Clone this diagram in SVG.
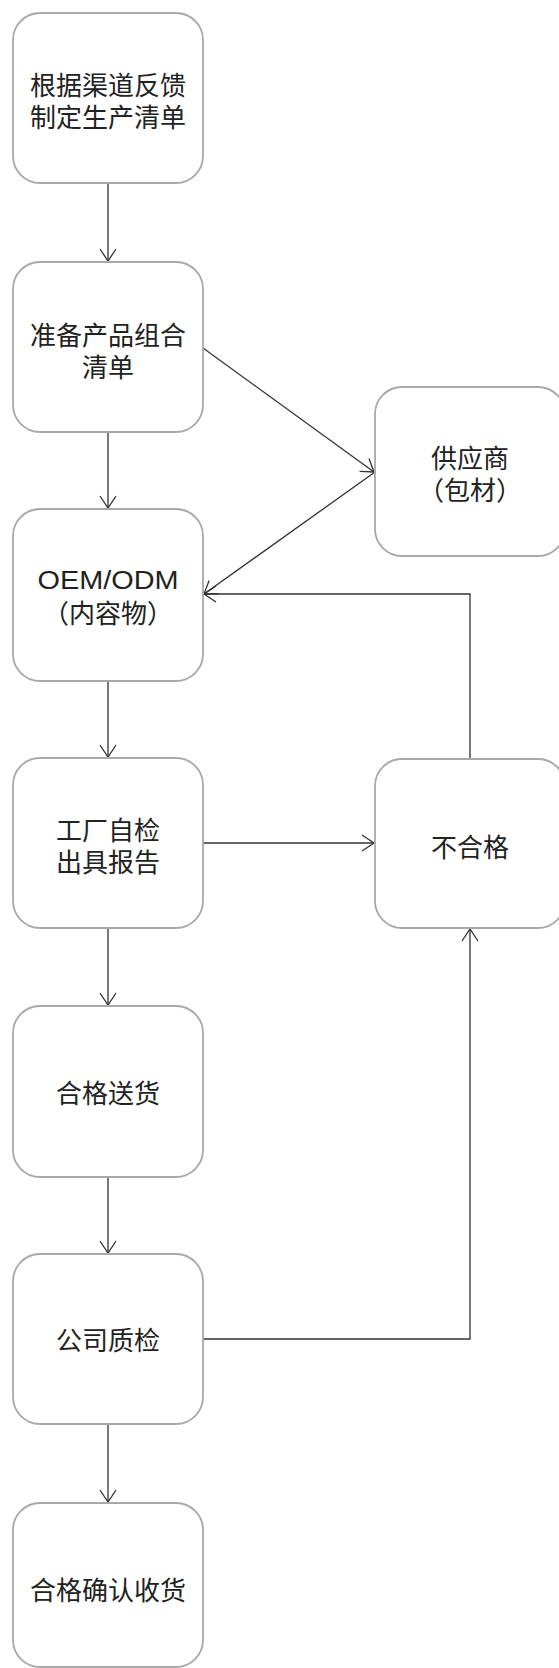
<svg xmlns="http://www.w3.org/2000/svg" width="559" height="1668" viewBox="0 0 559 1668">
<style>
.box{fill:#fff;stroke:#a8a8a8;stroke-width:1.8}
.t{font-family:"Liberation Sans","Noto Sans CJK SC",sans-serif;font-size:26px;fill:#222;text-anchor:middle}
.c{fill:none;stroke:#333;stroke-width:1.3}
</style>
<defs>
<marker id="a" markerWidth="16" markerHeight="20" viewBox="-14 -10 16 20" refX="0" refY="0" orient="auto" markerUnits="userSpaceOnUse">
<path d="M-12,-8 L0,0 L-12,8" fill="none" stroke="#333" stroke-width="1.3"/>
</marker>
</defs>
<rect width="559" height="1668" fill="#fff"/>
<g id="connectors">
<path class="c" d="M108,183 V261" marker-end="url(#a)"/>
<path class="c" d="M108,432 V508" marker-end="url(#a)"/>
<path class="c" d="M108,681 V757" marker-end="url(#a)"/>
<path class="c" d="M108,928 V1005" marker-end="url(#a)"/>
<path class="c" d="M108,1177 V1253" marker-end="url(#a)"/>
<path class="c" d="M108,1424 V1502" marker-end="url(#a)"/>
<path class="c" d="M203,348 L374,472" marker-end="url(#a)"/>
<path class="c" d="M375,472 L204,594" marker-end="url(#a)"/>
<path class="c" d="M470,759 V594 H204" marker-end="url(#a)"/>
<path class="c" d="M203,843 H374" marker-end="url(#a)"/>
<path class="c" d="M203,1339 H470 V929" marker-end="url(#a)"/>
</g>
<g id="n1"><rect class="box" x="13" y="13" width="190" height="170" rx="27"/><text class="t"><tspan x="108" y="95">根据渠道反馈</tspan><tspan x="108" y="127">制定生产清单</tspan></text></g>
<g id="n2"><rect class="box" x="13" y="262" width="190" height="170" rx="27"/><text class="t"><tspan x="108" y="345">准备产品组合</tspan><tspan x="108" y="377">清单</tspan></text></g>
<g id="n3"><rect class="box" x="13" y="509" width="190" height="172" rx="27"/><text class="t"><tspan x="108" y="589" textLength="141" lengthAdjust="spacingAndGlyphs">OEM/ODM</tspan><tspan x="108" y="623">（内容物）</tspan></text></g>
<g id="supplier"><rect class="box" x="375" y="387" width="190" height="169" rx="27"/><text class="t"><tspan x="470" y="468">供应商</tspan><tspan x="470" y="500">（包材）</tspan></text></g>
<g id="n4"><rect class="box" x="13" y="758" width="190" height="170" rx="27"/><text class="t"><tspan x="108" y="840">工厂自检</tspan><tspan x="108" y="872">出具报告</tspan></text></g>
<g id="fail"><rect class="box" x="375" y="759" width="190" height="169" rx="27"/><text class="t" x="470" y="857">不合格</text></g>
<g id="n5"><rect class="box" x="13" y="1006" width="190" height="171" rx="27"/><text class="t" x="108" y="1103">合格送货</text></g>
<g id="n6"><rect class="box" x="13" y="1254" width="190" height="170" rx="27"/><text class="t" x="108" y="1350">公司质检</text></g>
<g id="n7"><rect class="box" x="13" y="1503" width="190" height="164" rx="27"/><text class="t" x="108" y="1600">合格确认收货</text></g>
</svg>
